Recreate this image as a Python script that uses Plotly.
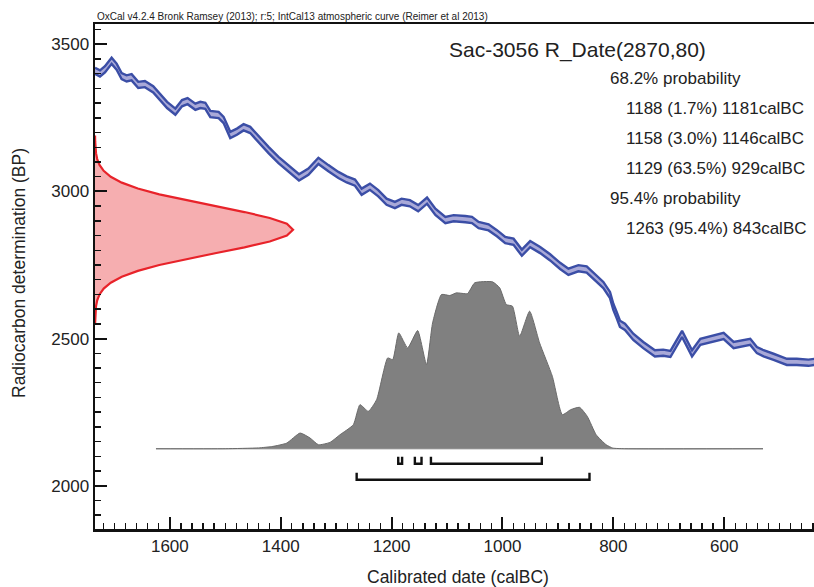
import plotly.graph_objects as go

# ---------------- data ----------------
# IntCal13 calibration curve
CURVE_CALBC = [1735, 1726, 1717, 1705, 1696, 1687, 1678, 1669, 1657, 1645,
               1630, 1618, 1605, 1590, 1578, 1568, 1554, 1545, 1536, 1527,
               1512, 1503, 1491, 1479, 1467, 1455, 1440, 1422, 1404, 1386,
               1367, 1350, 1332, 1314, 1296, 1281, 1266, 1254, 1239, 1224,
               1209, 1194, 1182, 1167, 1152, 1136, 1121, 1103, 1088, 1067,
               1055, 1043, 1025, 1010, 995, 980, 965, 950, 932, 914,
               896, 881, 863, 848, 833, 818, 806, 800, 794, 788,
               779, 764, 746, 725, 710, 697, 676, 658, 643, 625,
               601, 583, 553, 541, 529, 511, 499, 487, 469, 448,
               436]
CURVE_BP = [3410, 3401, 3415, 3444, 3424, 3392, 3384, 3388, 3362, 3365,
            3347, 3322, 3294, 3271, 3300, 3307, 3288, 3294, 3291, 3263,
            3260, 3243, 3192, 3203, 3218, 3209, 3177, 3141, 3107, 3079,
            3048, 3067, 3104, 3079, 3056, 3041, 3030, 2999, 3016, 2994,
            2965, 2954, 2965, 2960, 2943, 2969, 2931, 2903, 2909, 2906,
            2903, 2886, 2878, 2858, 2835, 2829, 2792, 2821, 2801, 2776,
            2747, 2727, 2739, 2735, 2710, 2682, 2648, 2608, 2580, 2550,
            2540, 2506, 2478, 2450, 2452, 2448, 2516, 2450, 2489, 2498,
            2509, 2478, 2489, 2461, 2450, 2438, 2430, 2421, 2421, 2418,
            2421]
CURVE_ERR = 10.5

# Radiocarbon measurement R_Date(2870,80): relative density by BP
RDATE_BP = [2550, 2570, 2590, 2610, 2630, 2650, 2670, 2690, 2710, 2730,
            2750, 2770, 2790, 2810, 2830, 2850, 2870, 2890, 2910, 2930,
            2950, 2970, 2990, 3010, 3030, 3050, 3070, 3090, 3110, 3130,
            3150, 3170, 3190]
RDATE_DENS = [0.0003, 0.0009, 0.0022, 0.0051, 0.0111, 0.0228, 0.0439, 0.0796,
              0.1353, 0.2163, 0.3247, 0.4578, 0.6065, 0.7548, 0.8825, 0.969,
              1.0, 0.969, 0.8825, 0.7548, 0.6065, 0.4578, 0.3247, 0.2163,
              0.1353, 0.0796, 0.0439, 0.0228, 0.0111, 0.0051, 0.0022, 0.0009,
              0.0003]

# Calibrated posterior (relative probability by calBC)
POST_CALBC = [1625, 1500, 1440, 1414, 1389, 1365, 1347, 1332, 1311, 1293,
              1269, 1257, 1242, 1227, 1207, 1198, 1187, 1171, 1153, 1137,
              1126, 1110, 1095, 1083, 1063, 1050, 1018, 1005, 993, 982,
              969, 951, 933, 910, 892, 877, 861, 847, 831, 813,
              801, 780, 530]
POST_PROB = [0.0, 0.0, 0.005, 0.014, 0.034, 0.094, 0.064, 0.024, 0.038, 0.084,
             0.144, 0.264, 0.224, 0.294, 0.544, 0.534, 0.694, 0.604, 0.708, 0.504,
             0.754, 0.924, 0.918, 0.934, 0.930, 0.994, 1.0, 0.964, 0.864, 0.854,
             0.674, 0.824, 0.634, 0.434, 0.204, 0.234, 0.248, 0.194, 0.084, 0.024,
             0.004, 0.0, 0.0]

# Highest probability ranges (calBC from, to)
RANGES_68 = [(1188, 1181), (1158, 1146), (1129, 929)]
RANGES_95 = [(1263, 843)]

TITLE = "Sac-3056 R_Date(2870,80)"
TEXT_LINES = [
    ("68.2% probability", 0),
    ("1188 (1.7%) 1181calBC", 1),
    ("1158 (3.0%) 1146calBC", 1),
    ("1129 (63.5%) 929calBC", 1),
    ("95.4% probability", 0),
    ("1263 (95.4%) 843calBC", 1),
]
HEADER = "OxCal v4.2.4 Bronk Ramsey (2013); r:5; IntCal13 atmospheric curve (Reimer et al 2013)"

X_TICKS = [1600, 1400, 1200, 1000, 800, 600]
Y_TICKS = [2000, 2500, 3000, 3500]

# ---------------- layout constants ----------------
W, H = 814, 587
ML, MR, MT, MB = 95, 0, 24, 58
PW, PH = W - ML - MR, H - MT - MB
FONT = "Liberation Sans, Arial, Helvetica, sans-serif"

BLUE = "#3b4ea6"
LAVENDER = "#a9a9d8"
RED = "#e8232a"
PINK = "#f6aeb0"
GRAY = "#808080"


def px(xp):
    return (xp - ML) / PW


def py(yp):
    return (H - MB - yp) / PH


fig = go.Figure()

# calibration curve band
upper = [b + CURVE_ERR for b in CURVE_BP]
lower = [b - CURVE_ERR for b in CURVE_BP]
fig.add_trace(go.Scatter(x=CURVE_CALBC, y=upper, mode="lines",
                         line=dict(width=0, color=BLUE), showlegend=False, hoverinfo="skip"))
fig.add_trace(go.Scatter(x=CURVE_CALBC, y=lower, mode="lines", fill="tonexty",
                         fillcolor=LAVENDER, line=dict(width=0, color=BLUE),
                         showlegend=False, hoverinfo="skip"))
fig.add_trace(go.Scatter(x=CURVE_CALBC, y=upper, mode="lines",
                         line=dict(width=2.4, color=BLUE), showlegend=False))
fig.add_trace(go.Scatter(x=CURVE_CALBC, y=lower, mode="lines",
                         line=dict(width=2.4, color=BLUE), showlegend=False))

# radiocarbon measurement distribution on the y-axis
fig.add_trace(go.Scatter(x=RDATE_DENS, y=RDATE_BP, xaxis="x2", yaxis="y",
                         mode="lines", fill="tozerox", fillcolor=PINK,
                         line=dict(color=RED, width=2.2), showlegend=False))

# posterior baseline and distribution
fig.add_trace(go.Scatter(x=[POST_CALBC[0], POST_CALBC[-1]], y=[0, 0], yaxis="y2",
                         mode="lines", line=dict(color="#b8b8b8", width=1.6),
                         showlegend=False))
fig.add_trace(go.Scatter(x=POST_CALBC, y=POST_PROB, yaxis="y2", mode="lines",
                         fill="tozeroy", fillcolor=GRAY,
                         line=dict(color="#6a6a6a", width=1, shape="spline", smoothing=0.5),
                         showlegend=False))

# range brackets
def bracket(ranges, top, bottom):
    xs, ys = [], []
    for a, b in ranges:
        xs += [a, a, b, b, None]
        ys += [top, bottom, bottom, top, None]
    return xs, ys

bx, by = bracket(RANGES_68, -0.048, -0.090)
fig.add_trace(go.Scatter(x=bx, y=by, yaxis="y2", mode="lines",
                         line=dict(color="#111111", width=2.4), showlegend=False))
bx, by = bracket(RANGES_95, -0.144, -0.186)
fig.add_trace(go.Scatter(x=bx, y=by, yaxis="y2", mode="lines",
                         line=dict(color="#111111", width=2.4), showlegend=False))

axis_common = dict(showgrid=False, zeroline=False, showline=True, linecolor="#111111",
                   linewidth=2.5, ticks="inside", tickcolor="#111111",
                   tickfont=dict(family=FONT, size=17, color="#222222"))

fig.update_layout(
    width=W, height=H,
    margin=dict(l=ML, r=MR, t=MT, b=MB, pad=0),
    paper_bgcolor="white", plot_bgcolor="white",
    showlegend=False,
    xaxis=dict(range=[1735, 438], tickvals=X_TICKS, ticklen=12, tickwidth=2,
               minor=dict(dtick=20, tick0=0, ticklen=6, tickwidth=1.4, ticks="inside",
                          tickcolor="#111111"),
               mirror=True, **axis_common),
    yaxis=dict(range=[1853, 3569], tickvals=Y_TICKS, ticklen=12, tickwidth=2,
               minor=dict(dtick=50, tick0=0, ticklen=6, tickwidth=1.4, ticks="inside",
                          tickcolor="#111111"),
               **axis_common),
    xaxis2=dict(overlaying="x", range=[0, 3.631], visible=False, anchor="y"),
    yaxis2=dict(overlaying="y", range=[-0.481, 2.545], visible=False, anchor="x"),
)

annotations = [
    dict(text=HEADER, x=px(95), y=py(17), xanchor="left", yanchor="middle",
         font=dict(family=FONT, size=10, color="#222222")),
    dict(text=TITLE, x=px(447), y=py(50), xanchor="left", yanchor="middle",
         font=dict(family=FONT, size=21, color="#222222")),
    dict(text="Calibrated date (calBC)", x=px(458), y=py(577), xanchor="center",
         yanchor="middle", font=dict(family=FONT, size=17.5, color="#222222")),
    dict(text="Radiocarbon determination (BP)", x=px(19), y=py(273), xanchor="center",
         yanchor="middle", textangle=-90, font=dict(family=FONT, size=17.5, color="#222222")),
]
for i, (txt, indent) in enumerate(TEXT_LINES):
    annotations.append(dict(text=txt, x=px(608 + 16 * indent), y=py(78 + 30 * i),
                            xanchor="left", yanchor="middle",
                            font=dict(family=FONT, size=17, color="#222222")))
for a in annotations:
    a.update(xref="paper", yref="paper", showarrow=False)
fig.update_layout(annotations=annotations)

fig.write_html(
    "out.html",
    config={"displayModeBar": False, "staticPlot": True},
    post_script=("document.body.style.margin='0';"
                 "document.body.style.padding='0';"
                 "document.body.style.overflow='hidden';"
                 "document.documentElement.style.overflow='hidden';"),
)
